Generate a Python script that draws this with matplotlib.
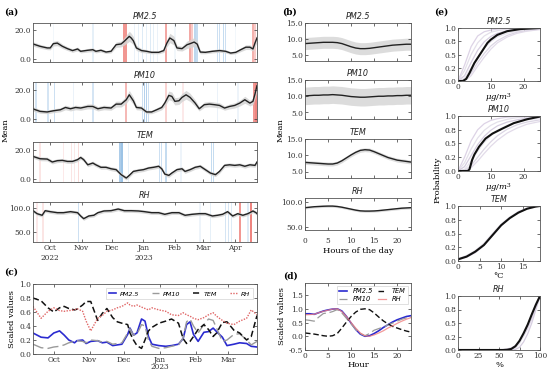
import numpy as np
import pandas as pd
import matplotlib
matplotlib.use("Agg")
import matplotlib.pyplot as plt
import matplotlib.dates as mdates
import matplotlib.transforms as mtransforms
from matplotlib.ticker import FormatStrFormatter

# ---------------- data: panel (a) daily means (day offsets from 2022-09-14) -------------
a_start = pd.Timestamp("2022-09-14")
a_end = pd.Timestamp("2023-04-23")

pm25_day = [0,7,14,17,20,24,29,34,39,44,47,54,59,62,67,72,77,82,87,90,95,97,99,102,107,112,117,124,129,132,135,139,142,147,152,155,159,162,165,170,177,184,190,195,200,205,210,214,217,219,221]
pm25_mean = [10.5,8.9,7.8,7.8,10.7,11.1,8.9,7.3,6.0,7.1,5.5,6.2,6.6,5.5,6.2,5.0,5.5,10.0,10.5,12.3,15.7,14.5,12.7,7.8,6.0,5.5,4.8,4.8,6.0,11.0,14.6,12.8,7.8,7.3,10.0,10.7,11.8,10.4,5.0,4.8,5.5,6.0,5.5,4.3,4.8,6.6,8.3,8.3,7.1,11.1,14.6]
pm25_sd = [1.5,1.3,1.2,1.3,1.6,1.8,1.5,1.3,1.2,1.3,1.1,1.2,1.3,1.1,1.2,1.0,1.1,1.8,2.0,2.5,3.5,3.2,2.8,1.8,1.3,1.2,1.0,1.0,1.3,2.5,3.2,3.0,1.8,1.6,2.5,2.8,3.0,2.5,1.2,1.0,1.1,1.2,1.1,1.0,1.0,1.3,1.6,1.6,1.5,2.5,3.0]

pm10_day = [0,7,14,20,27,32,37,42,47,54,59,64,70,77,82,87,92,95,99,102,107,112,117,122,127,130,134,137,140,144,147,151,155,160,164,169,174,179,184,189,194,199,204,209,214,217,219,221]
pm10_mean = [7.0,5.3,4.9,5.7,6.4,8.0,7.1,8.0,7.6,8.7,8.7,7.1,8.0,7.6,10.3,10.3,13.3,16.7,12.6,8.0,7.6,4.9,4.9,6.4,8.0,11.0,16.3,15.6,12.2,12.6,14.9,16.7,14.9,11.0,7.1,9.9,10.3,9.9,9.4,7.6,8.7,9.4,11.0,13.3,11.0,12.2,17.2,23.0]
pm10_sd = [1.5,1.3,1.2,1.3,1.4,1.6,1.5,1.6,1.5,1.7,1.7,1.5,1.6,1.5,2.0,2.0,2.5,3.0,2.5,1.6,1.5,1.2,1.2,1.4,1.6,2.2,3.0,3.0,2.5,2.5,2.8,3.0,2.8,2.2,1.5,1.8,1.9,1.8,1.8,1.5,1.7,1.8,2.0,2.4,2.0,2.2,3.0,3.5]

tem_day = [0,7,14,19,24,29,34,39,44,47,50,54,59,62,67,72,77,82,87,92,95,99,104,109,114,119,124,127,130,134,137,142,147,150,155,160,165,170,175,180,184,189,194,199,204,209,214,219,221]
tem_mean = [15.6,14.0,13.8,11.8,12.7,12.9,12.2,12.2,13.4,14.9,13.4,9.9,11.1,9.9,8.2,8.2,7.2,6.6,3.2,0.9,2.7,5.4,6.1,6.6,7.7,8.2,8.9,7.2,3.6,2.7,4.3,6.6,7.2,5.4,6.6,8.2,8.9,6.6,4.3,3.2,5.4,9.5,9.9,9.5,9.9,8.9,9.9,9.5,11.8]
tem_sd = 1.3

rh_day = [0,4,9,12,17,24,30,37,44,47,50,55,60,64,70,77,84,90,97,104,110,117,124,130,137,144,150,157,164,170,177,182,187,192,197,202,207,212,217,220,221]
rh_mean = [93.9,87.8,84.5,93.9,91.9,89.8,89.8,91.9,89.8,83.1,77.6,83.1,84.5,89.8,93.3,93.9,97.3,93.9,93.9,93.3,91.9,89.8,89.8,86.5,89.8,89.8,84.5,86.5,87.8,87.8,83.1,84.5,86.5,91.9,83.1,87.8,84.5,87.8,93.3,89.8,87.8]
rh_sd = 3.5

# anomaly stripes (day offset, strength)
pm25_red = [(90,0.6),(92,0.6),(131,0.5),(155,0.5),(157,0.3),(217,0.45),(219,0.3)]
pm25_blue = [(20,0.08),(59,0.15),(100,0.12),(104,0.15),(108,0.2),(112,0.15),(116,0.2),(119,0.15),(123,0.12),(140,0.08),(160,0.4),(162,0.35),(182,0.3),(184,0.3),(188,0.35),(190,0.3),(200,0.08)]
pm10_red = [(92,0.4),(131,0.25),(148,0.12),(218,0.6),(220,0.7),(222,0.6)]
pm10_blue = [(3,0.25),(15,0.25),(21,0.3),(40,0.12),(59,0.25),(108,0.3),(110,0.45),(112,0.45),(114,0.3),(182,0.12),(202,0.1)]
tem_red = [(0,0.15),(7,0.15),(30,0.12),(38,0.15),(41,0.12),(45,0.2)]
tem_blue = [(86,0.5),(88,0.6),(94,0.15),(125,0.3),(127,0.3),(131,0.35),(146,0.1),(176,0.35),(178,0.35)]
rh_red = [(4,0.12),(10,0.15),(204,0.6),(215,0.7)]
rh_blue = [(45,0.3),(165,0.1),(175,0.15),(190,0.25),(193,0.25),(196,0.2),(212,0.2)]

# ---------------- panel (c): scaled daily values (days from 2022-09-01) ------------
c_start = pd.Timestamp("2022-09-01")
c_day = [12,19,25,30,35,39,43,48,50,55,58,62,68,72,76,81,85,89,94,96,99,102,106,109,112,115,121,127,132,138,142,145,148,151,155,160,164,168,171,176,180,186,191,197,201,206]
c_pm25 = [0.30,0.24,0.23,0.30,0.33,0.27,0.20,0.16,0.19,0.20,0.15,0.18,0.19,0.16,0.17,0.12,0.13,0.14,0.28,0.37,0.27,0.30,0.50,0.47,0.25,0.14,0.12,0.11,0.12,0.14,0.22,0.42,0.46,0.28,0.18,0.31,0.32,0.37,0.32,0.24,0.12,0.14,0.16,0.15,0.11,0.10]
c_pm10 = [0.14,0.09,0.08,0.10,0.11,0.13,0.16,0.18,0.19,0.18,0.16,0.20,0.19,0.17,0.18,0.14,0.15,0.16,0.30,0.36,0.27,0.28,0.42,0.40,0.20,0.11,0.08,0.09,0.11,0.13,0.23,0.46,0.50,0.40,0.30,0.42,0.50,0.48,0.37,0.18,0.20,0.28,0.29,0.20,0.13,0.18]
c_tem = [0.80,0.76,0.66,0.60,0.66,0.68,0.65,0.63,0.64,0.70,0.75,0.75,0.48,0.58,0.65,0.52,0.46,0.44,0.42,0.30,0.20,0.12,0.08,0.20,0.33,0.38,0.44,0.47,0.50,0.44,0.22,0.15,0.18,0.25,0.35,0.42,0.35,0.25,0.30,0.45,0.46,0.34,0.30,0.20,0.25,0.55]
c_rh = [0.68,0.51,0.61,0.66,0.62,0.61,0.62,0.63,0.65,0.61,0.47,0.33,0.51,0.55,0.61,0.63,0.66,0.68,0.73,0.70,0.68,0.70,0.67,0.65,0.63,0.66,0.63,0.61,0.56,0.55,0.59,0.56,0.54,0.51,0.49,0.52,0.56,0.59,0.54,0.48,0.44,0.42,0.47,0.51,0.63,0.56]

# ---------------- panel (b): diurnal means ----------------
hours = list(range(24))
b_pm25 = [8.5,8.6,8.7,8.8,8.9,8.9,8.9,8.8,8.5,8.0,7.5,7.1,6.9,6.9,7.0,7.2,7.4,7.6,7.8,8.0,8.1,8.2,8.3,8.3]
b_pm10 = [10.1,10.2,10.3,10.3,10.4,10.4,10.5,10.4,10.3,10.1,9.9,9.8,9.7,9.7,9.8,9.9,10.0,10.0,10.1,10.1,10.2,10.2,10.3,10.3]
b_tem = [7.8,7.7,7.6,7.5,7.4,7.3,7.3,7.6,8.3,9.2,10.1,10.9,11.5,11.7,11.6,11.1,10.5,9.9,9.3,8.9,8.5,8.3,8.1,7.9]
b_rh = [89,90,91,91.5,92,92.3,92.3,91.5,90,88,86,84,82.5,82,82,82.3,83,84,85,86,87,88,88.5,89]
b_sd = {"PM2.5": 1.9, "PM10": 2.7, "TEM": 0.6, "RH": 2.5}

# ---------------- panel (d): scaled diurnal ----------------
d_pm25 = [0.82,0.82,0.80,0.86,0.92,0.96,0.99,1.0,0.92,0.72,0.48,0.25,0.08,0.0,0.02,0.10,0.20,0.32,0.42,0.52,0.60,0.66,0.72,0.75]
d_pm10 = [0.60,0.58,0.55,0.70,0.83,0.85,0.90,0.97,0.85,0.65,0.45,0.25,0.10,0.02,0.10,0.22,0.28,0.33,0.42,0.48,0.55,0.62,0.67,0.70]
d_tem = [0.12,0.10,0.08,0.05,0.02,0.0,0.02,0.10,0.30,0.52,0.72,0.88,0.98,1.0,0.97,0.85,0.70,0.56,0.45,0.36,0.30,0.24,0.19,0.15]
d_rh = [0.78,0.79,0.80,0.86,0.91,0.95,0.99,1.0,0.90,0.72,0.50,0.30,0.12,0.02,0.0,0.05,0.12,0.20,0.30,0.38,0.47,0.55,0.62,0.68]

# ---------------- panel (e): cumulative distributions ----------------
e_pm25_x = [0,1.5,2.5,3.5,5,7,9,10,12,15,19,25]
e_pm25_p = [0,0,0.04,0.15,0.34,0.53,0.72,0.78,0.87,0.94,0.98,1.0]
e_pm10_x = [0,3,3.5,4.3,5,6.4,8.4,10.5,13.5,17,21,25]
e_pm10_p = [0,0,0.03,0.2,0.3,0.44,0.59,0.68,0.77,0.87,0.94,0.99]
e_pm_grid = [0,2,4,6,8,10,12,15,18,21,25]
e_pm25_faint = [
    [0,0.3,0.65,0.85,0.93,0.96,0.98,0.99,1,1,1],
    [0,0.2,0.5,0.72,0.85,0.92,0.95,0.98,0.99,1,1],
    [0,0.1,0.35,0.58,0.74,0.84,0.9,0.95,0.97,0.99,1],
    [0,0.05,0.25,0.45,0.62,0.74,0.83,0.9,0.94,0.97,0.99],
    [0,0.02,0.15,0.35,0.52,0.66,0.76,0.86,0.92,0.95,0.98],
    [0,0.0,0.1,0.28,0.45,0.6,0.72,0.83,0.9,0.94,0.97],
]
e_pm10_faint = [
    [0,0.25,0.55,0.75,0.86,0.92,0.95,0.98,0.99,1,1],
    [0,0.15,0.4,0.6,0.74,0.83,0.89,0.94,0.97,0.98,0.99],
    [0,0.08,0.28,0.48,0.63,0.74,0.82,0.89,0.93,0.96,0.98],
    [0,0.03,0.18,0.36,0.52,0.64,0.74,0.83,0.89,0.93,0.96],
    [0,0.01,0.1,0.25,0.4,0.53,0.64,0.76,0.84,0.89,0.93],
    [0,0.0,0.06,0.18,0.32,0.45,0.56,0.69,0.78,0.85,0.9],
]
e_tem_x = [0,2,4,6,8,10,12,14,16,18,19]
e_tem_p = [0.03,0.08,0.17,0.29,0.47,0.65,0.78,0.88,0.95,0.99,1.0]
e_tem_faint = [
    [0.02,0.07,0.15,0.28,0.46,0.64,0.79,0.9,0.96,0.99,1.0],
    [0.04,0.1,0.19,0.32,0.5,0.67,0.8,0.89,0.95,0.98,1.0],
]
e_rh_x = [0,25,50,55,60,65,70,75,80,85,90,95,100]
e_rh_p = [0,0,0,0,0.005,0.02,0.07,0.17,0.31,0.47,0.66,0.84,1.0]
e_rh_faint = [
    [0,0,0.005,0.01,0.02,0.04,0.08,0.15,0.26,0.4,0.58,0.78,1.0],
    [0,0,0,0,0,0.01,0.04,0.12,0.27,0.45,0.66,0.86,1.0],
    [0,0,0,0,0,0,0.01,0.05,0.15,0.3,0.5,0.75,1.0],
]

# ============================ drawing ============================
W, H = 550, 371
plt.rcParams["font.family"] = ["DejaVu Serif"]
plt.rcParams["mathtext.fontset"] = "dejavuserif"
fig = plt.figure(figsize=(W / 100, H / 100), dpi=100)
fig.patch.set_facecolor("white")

TS = 5.3  # tick label size


def add_ax(x0, y0, x1, y1):
    return fig.add_axes([x0 / W, 1 - y1 / H, (x1 - x0) / W, (y1 - y0) / H])


def style(ax):
    ax.tick_params(direction="in", length=2, width=0.5, labelsize=TS, top=True,
                   right=True, pad=1.5, colors="#333333")
    for s in ax.spines.values():
        s.set_linewidth(0.6)
        s.set_color("#555555")


def title(ax, t):
    ax.set_title(t, fontsize=5.8, style="italic", family="DejaVu Sans", pad=3, color="#222222")


def year_label(ax, date, text, yoff):
    tr = mtransforms.blended_transform_factory(ax.transData, ax.transAxes)
    ax.text(date, yoff, text, transform=tr, ha="center", va="center", fontsize=TS, color="#333333")


# ---- panel (a)
a_rows = [
    ("PM2.5", pm25_day, pm25_mean, pm25_sd, pm25_red, pm25_blue, (-1.8, 24.8), [0, 20], (23, 62)),
    ("PM10", pm10_day, pm10_mean, pm10_sd, pm10_red, pm10_blue, (-2.0, 25.5), [0, 20], (82, 122)),
    ("TEM", tem_day, tem_mean, tem_sd, tem_red, tem_blue, (-1.8, 25.4), [0, 20], (142, 182)),
    ("RH", rh_day, rh_mean, rh_sd, rh_red, rh_blue, (30, 111.6), [50, 100], (202, 242)),
]

for i, (name, days, mean, sd, reds, blues, ylim, yt, (y0, y1)) in enumerate(a_rows):
    ax = add_ax(33, y0, 257, y1)
    style(ax)
    dts = a_start + pd.to_timedelta(days, unit="D")
    m = np.array(mean, dtype=float)
    s = np.array(sd, dtype=float) if np.ndim(sd) else np.full(len(m), sd)
    for dd, al in reds:
        c = a_start + pd.Timedelta(days=dd)
        ax.axvspan(c - pd.Timedelta(hours=18), c + pd.Timedelta(hours=18), color="#e8524a", alpha=al, lw=0)
    for dd, al in blues:
        c = a_start + pd.Timedelta(days=dd)
        ax.axvspan(c - pd.Timedelta(hours=18), c + pd.Timedelta(hours=18), color="#5b9bd5", alpha=al, lw=0)
    ax.fill_between(dts, m - s, m + s, color="#d4d4d4", alpha=0.85, lw=0)
    ax.plot(dts, m, color="#222222", lw=1.0)
    ax.set_xlim(a_start, a_end)
    ax.set_ylim(*ylim)
    ax.set_yticks(yt)
    ax.yaxis.set_major_formatter(FormatStrFormatter("%.1f"))
    ax.xaxis.set_major_locator(mdates.MonthLocator())
    if i < 3:
        ax.tick_params(labelbottom=False)
    else:
        ax.xaxis.set_major_formatter(mdates.DateFormatter("%b"))
        year_label(ax, pd.Timestamp("2022-10-01"), "2022", -0.40)
        year_label(ax, pd.Timestamp("2023-01-01"), "2023", -0.40)
    title(ax, name)

# ---- panel (c)
axc = add_ax(33, 284, 257, 354)
style(axc)
cd = c_start + pd.to_timedelta(c_day, unit="D")
axc.plot(cd, c_pm25, color="#2b2bd0", lw=1.2, label="PM2.5")
axc.plot(cd, c_pm10, color="#9a9a9a", lw=1.0, ls=(0, (8, 3)), label="PM10")
axc.plot(cd, c_tem, color="#111111", lw=1.1, ls=(0, (4, 2)), label="TEM")
axc.plot(cd, c_rh, color="#e06666", lw=1.0, ls=(0, (1, 1)), label="RH")
axc.set_xlim(pd.Timestamp("2022-09-13"), pd.Timestamp("2023-03-26"))
axc.set_ylim(0, 1.0)
axc.set_yticks([0, 0.2, 0.4, 0.6, 0.8, 1.0])
axc.yaxis.set_major_formatter(FormatStrFormatter("%.1f"))
axc.xaxis.set_major_locator(mdates.MonthLocator())
axc.xaxis.set_major_formatter(mdates.DateFormatter("%b"))
year_label(axc, pd.Timestamp("2023-01-01"), "2023", -0.185)
leg = axc.legend(loc="upper right", ncol=4, prop={"style": "italic", "size": 4.6, "family": "DejaVu Sans"},
                 handlelength=1.1, handletextpad=0.6, columnspacing=2.0, borderpad=0.45,
                 frameon=True, fancybox=False, bbox_to_anchor=(0.995, 0.985))
leg.get_frame().set_linewidth(0.4)
leg.get_frame().set_edgecolor("#bbbbbb")
axc.set_ylabel("Scaled values", fontsize=6, labelpad=2)

# ---- panel (b)
b_rows = [
    ("PM2.5", b_pm25, (3, 15), [5, 10, 15], (23, 61)),
    ("PM10", b_pm10, (3, 15), [5, 10, 15], (80, 119)),
    ("TEM", b_tem, (3, 15), [5, 10, 15], (139, 178)),
    ("RH", b_rh, (43, 109), [50, 100], (198, 230)),
]
for i, (name, vals, ylim, yt, (y0, y1)) in enumerate(b_rows):
    ax = add_ax(305, y0, 411, y1)
    style(ax)
    v = np.array(vals, dtype=float)
    ax.fill_between(hours, v - b_sd[name], v + b_sd[name], color="#d9d9d9", alpha=0.9, lw=0)
    ax.plot(hours, v, color="#222222", lw=1.0)
    ax.set_xlim(0, 23)
    ax.set_ylim(*ylim)
    ax.set_yticks(yt)
    ax.yaxis.set_major_formatter(FormatStrFormatter("%.1f"))
    ax.set_xticks([0, 5, 10, 15, 20])
    if i < 3:
        ax.tick_params(labelbottom=False)
    else:
        ax.tick_params(axis="x", pad=5)
        ax.set_xlabel("Hours of the day", fontsize=6, labelpad=1.5)
    title(ax, name)

# ---- panel (d)
axd = add_ax(305, 283, 411, 350)
style(axd)
axd.plot(hours, d_pm25, color="#2b2bd0", lw=1.2, label="PM2.5")
axd.plot(hours, d_pm10, color="#9a9a9a", lw=0.9, ls=(0, (8, 3)), label="PM10")
axd.plot(hours, d_tem, color="#111111", lw=1.0, ls=(0, (4, 2)), label="TEM")
axd.plot(hours, d_rh, color="#f08080", lw=0.9, alpha=0.8, label="RH")
axd.set_xlim(0, 23)
axd.set_ylim(-0.5, 1.94)
axd.set_yticks([-0.5, 0, 0.5, 1.0, 1.5])
axd.yaxis.set_major_formatter(FormatStrFormatter("%.1f"))
axd.set_xticks([0, 5, 10, 15, 20])
axd.set_xlabel("Hour", fontsize=6, labelpad=1.0)
axd.set_ylabel("Scaled values", fontsize=6, labelpad=2)
legd = axd.legend(loc="upper right", ncol=2, prop={"style": "italic", "size": 4.8, "family": "DejaVu Sans"},
                  handlelength=1.2, columnspacing=0.8, borderpad=0.3, labelspacing=0.3,
                  frameon=True, fancybox=False)
legd.get_frame().set_linewidth(0.4)
legd.get_frame().set_edgecolor("#bbbbbb")

# ---- panel (e)
faint_cols = ["#ddd3e6", "#e4e0ea", "#d6cde0", "#e8e4ee", "#dcd6e4", "#e2dbe9"]
e_rows = [
    ("PM2.5", e_pm25_x, e_pm25_p, e_pm_grid, e_pm25_faint, (0, 25), [0, 10, 20], r"$\mu g/m^3$", (28, 81)),
    ("PM10", e_pm10_x, e_pm10_p, e_pm_grid, e_pm10_faint, (0, 25), [0, 10, 20], r"$\mu g/m^3$", (116, 171)),
    ("TEM", e_tem_x, e_tem_p, e_tem_x, e_tem_faint, (0, 19), [0, 5, 10, 15], "°C", (206, 261)),
    ("RH", e_rh_x, e_rh_p, e_rh_x, e_rh_faint, (0, 100), [0, 25, 50, 75, 100], "%", (296, 350)),
]
for name, bx, bp, gx, faint, xlim, xt, xl, (y0, y1) in e_rows:
    ax = add_ax(458, y0, 540, y1)
    style(ax)
    for k, fp in enumerate(faint):
        ax.plot(gx, fp, color=faint_cols[k % len(faint_cols)], lw=0.9)
    ax.plot(bx, bp, color="#111111", lw=1.5)
    ax.set_xlim(*xlim)
    ax.set_ylim(0, 1.0)
    ax.set_yticks([0, 0.25, 0.5, 0.75, 1.0])
    ax.yaxis.set_major_formatter(FormatStrFormatter("%.1f"))
    ax.set_xticks(xt)
    ax.set_xlabel(xl, fontsize=6, labelpad=0.5)
    title(ax, name)

# ---- labels
fig.text(6 / W, 1 - 130 / H, "Mean", rotation=90, fontsize=6, ha="center", va="center")
fig.text(280.5 / W, 1 - 130 / H, "Mean", rotation=90, fontsize=6, ha="center", va="center")
fig.text(438 / W, 1 - 180 / H, "Probability", rotation=90, fontsize=6, ha="center", va="center")
for lab, x, y in [("(a)", 4, 12), ("(b)", 282, 12), ("(e)", 434, 12), ("(c)", 4, 272), ("(d)", 283, 276)]:
    fig.text(x / W, 1 - y / H, lab, fontsize=6.5, fontweight="bold", ha="left", va="center")

fig.savefig("out.png", dpi=100, facecolor="white")
